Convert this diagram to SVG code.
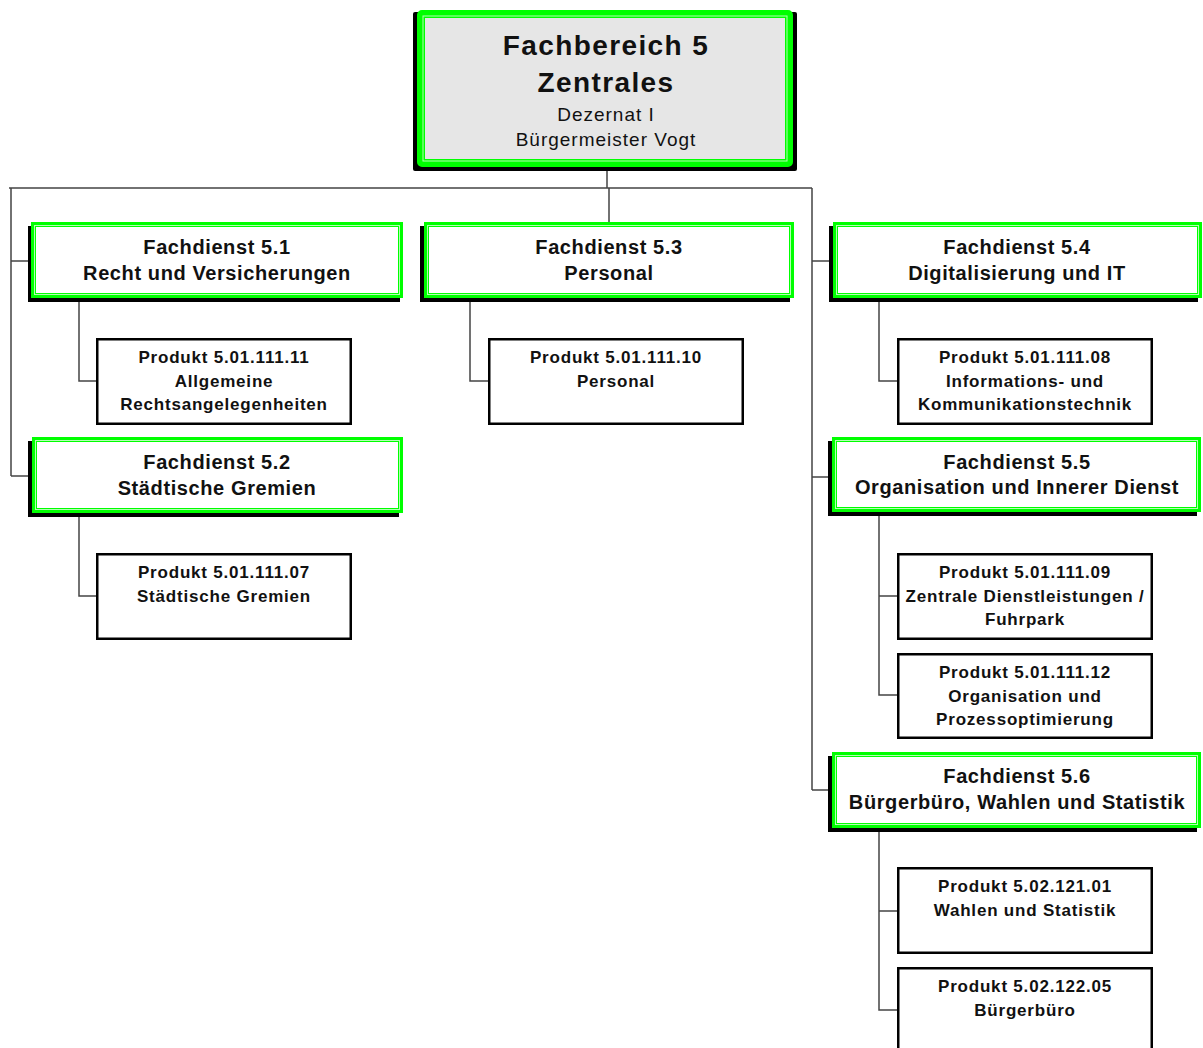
<svg xmlns="http://www.w3.org/2000/svg" width="1203" height="1048" viewBox="0 0 1203 1048">
<style>
.bg{fill:#ffffff}
.sh{fill:#000000}
.gf{fill:#ffffff;stroke:#00ff00;stroke-width:5}
.gt{fill:#e6e6e6;stroke:#00ff00;stroke-width:8}
.gi{fill:none;stroke:#b4ffb4;stroke-width:1}
.pb{fill:#ffffff;stroke:#000000;stroke-width:2.5}
.ln{fill:none;stroke:#444444;stroke-width:1.5}
text{font-family:"Liberation Sans",Arial,sans-serif;fill:#111111;text-anchor:middle}
.h1{font-size:28px;font-weight:bold;letter-spacing:1.4px}
.h2{font-size:19px;letter-spacing:1px}
.fd{font-size:20px;font-weight:bold;letter-spacing:0.6px}
.pr{font-size:17px;font-weight:bold;letter-spacing:0.8px}
</style>
<rect class="bg" x="0" y="0" width="1203" height="1048"/>

<g id="connectors">
<path class="ln" d="M607,171 V188 M9,188 H812 M11,188 V476 M11,261 H31 M11,476 H32 M609,188 V222 M812,188 V790 M812,261 H833 M812,477 H832 M812,790 H832"/>
<path class="ln" d="M79,302 V381 H96 M470,302 V381 H488 M879,302 V381 H897"/>
<path class="ln" d="M79,517 V596 H96 M879,516 V695 H897 M879,596 H897 M879,832 V1010 H897 M879,911 H897"/>
</g>

<g id="fb5">
<rect class="sh" x="413" y="12" width="384" height="159" rx="2"/>
<rect class="gt" x="421" y="14" width="368" height="149" rx="1"/>
<rect class="gi" x="423" y="16" width="364" height="145"/>
<text class="h1" x="606" y="55">Fachbereich 5</text>
<text class="h1" x="606" y="92">Zentrales</text>
<text class="h2" x="606" y="121">Dezernat I</text>
<text class="h2" x="606" y="146">Bürgermeister Vogt</text>
</g>

<g id="fd51">
<rect class="sh" x="28" y="226" width="372" height="76"/>
<rect class="gf" x="33.5" y="224.5" width="367" height="71"/>
<rect class="gi" x="34.5" y="225.5" width="365" height="69"/>
<text class="fd" x="217" y="254">Fachdienst 5.1</text>
<text class="fd" x="217" y="280">Recht und Versicherungen</text>
</g>

<g id="fd53">
<rect class="sh" x="420" y="226" width="370" height="76"/>
<rect class="gf" x="426.5" y="224.5" width="365" height="71"/>
<rect class="gi" x="427.5" y="225.5" width="363" height="69"/>
<text class="fd" x="609" y="254">Fachdienst 5.3</text>
<text class="fd" x="609" y="280">Personal</text>
</g>

<g id="fd54">
<rect class="sh" x="829" y="226" width="369" height="76"/>
<rect class="gf" x="835.5" y="224.5" width="364" height="71"/>
<rect class="gi" x="836.5" y="225.5" width="362" height="69"/>
<text class="fd" x="1017" y="254">Fachdienst 5.4</text>
<text class="fd" x="1017" y="280">Digitalisierung und IT</text>
</g>

<g id="fd52">
<rect class="sh" x="28" y="441" width="371" height="76"/>
<rect class="gf" x="34.5" y="439.5" width="366" height="71"/>
<rect class="gi" x="35.5" y="440.5" width="364" height="69"/>
<text class="fd" x="217" y="469">Fachdienst 5.2</text>
<text class="fd" x="217" y="495">Städtische Gremien</text>
</g>

<g id="fd55">
<rect class="sh" x="828" y="441" width="369" height="75"/>
<rect class="gf" x="834.5" y="439.5" width="364" height="70"/>
<rect class="gi" x="835.5" y="440.5" width="362" height="68"/>
<text class="fd" x="1017" y="469">Fachdienst 5.5</text>
<text class="fd" x="1017" y="494">Organisation und Innerer Dienst</text>
</g>

<g id="fd56">
<rect class="sh" x="828" y="756" width="369" height="76"/>
<rect class="gf" x="834.5" y="754.5" width="364" height="71"/>
<rect class="gi" x="835.5" y="755.5" width="362" height="69"/>
<text class="fd" x="1017" y="783">Fachdienst 5.6</text>
<text class="fd" x="1017" y="809">Bürgerbüro, Wahlen und Statistik</text>
</g>

<g id="p11">
<rect class="pb" x="97.25" y="339.25" width="253.5" height="84.5"/>
<text class="pr" x="224" y="363">Produkt 5.01.111.11</text>
<text class="pr" x="224" y="387">Allgemeine</text>
<text class="pr" x="224" y="410">Rechtsangelegenheiten</text>
</g>

<g id="p07">
<rect class="pb" x="97.25" y="554.25" width="253.5" height="84.5"/>
<text class="pr" x="224" y="578">Produkt 5.01.111.07</text>
<text class="pr" x="224" y="602">Städtische Gremien</text>
</g>

<g id="p10">
<rect class="pb" x="489.25" y="339.25" width="253.5" height="84.5"/>
<text class="pr" x="616" y="363">Produkt 5.01.111.10</text>
<text class="pr" x="616" y="387">Personal</text>
</g>

<g id="p08">
<rect class="pb" x="898.25" y="339.25" width="253.5" height="84.5"/>
<text class="pr" x="1025" y="363">Produkt 5.01.111.08</text>
<text class="pr" x="1025" y="387">Informations- und</text>
<text class="pr" x="1025" y="410">Kommunikationstechnik</text>
</g>

<g id="p09">
<rect class="pb" x="898.25" y="554.25" width="253.5" height="84.5"/>
<text class="pr" x="1025" y="578">Produkt 5.01.111.09</text>
<text class="pr" x="1025" y="602">Zentrale Dienstleistungen /</text>
<text class="pr" x="1025" y="625">Fuhrpark</text>
</g>

<g id="p12">
<rect class="pb" x="898.25" y="654.25" width="253.5" height="83.5"/>
<text class="pr" x="1025" y="678">Produkt 5.01.111.12</text>
<text class="pr" x="1025" y="702">Organisation und</text>
<text class="pr" x="1025" y="725">Prozessoptimierung</text>
</g>

<g id="p0121">
<rect class="pb" x="898.25" y="868.25" width="253.5" height="84.5"/>
<text class="pr" x="1025" y="892">Produkt 5.02.121.01</text>
<text class="pr" x="1025" y="916">Wahlen und Statistik</text>
</g>

<g id="p0205">
<rect class="pb" x="898.25" y="968.25" width="253.5" height="84.5"/>
<text class="pr" x="1025" y="992">Produkt 5.02.122.05</text>
<text class="pr" x="1025" y="1016">Bürgerbüro</text>
</g>
</svg>
